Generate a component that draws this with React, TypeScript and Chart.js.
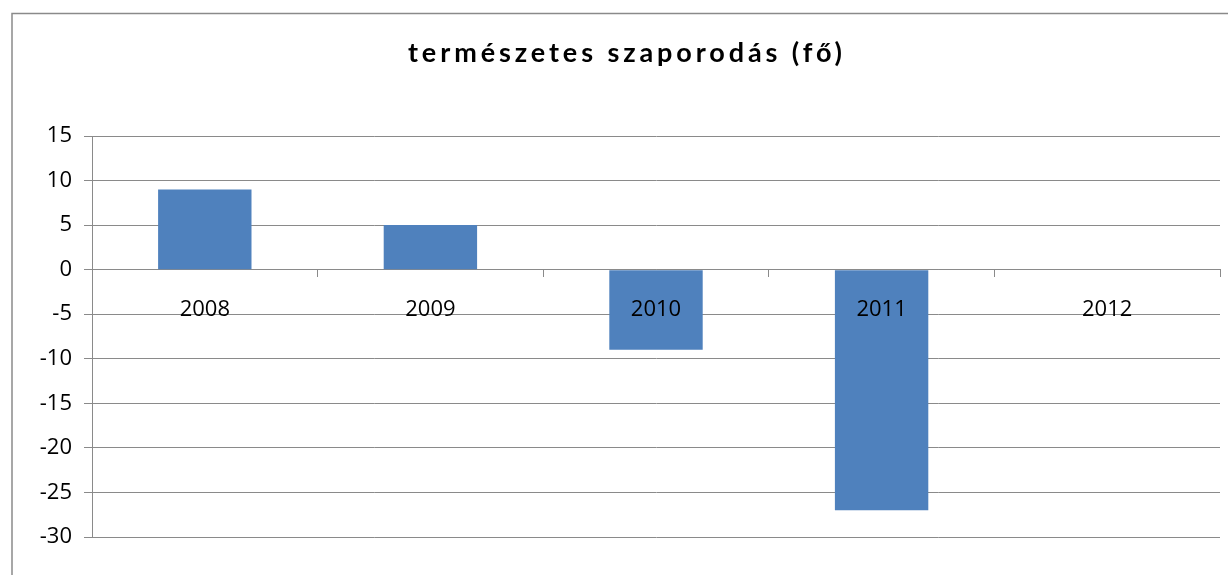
import React, { useEffect, useRef } from "react";
import { Chart, registerables } from "chart.js";

Chart.register(...registerables);

const TITLE = "természetes szaporodás (fő)";
const CATEGORIES = ["2008", "2009", "2010", "2011", "2012"];
const VALUES = [9, 5, -9, -27, 0];
const Y_MIN = -30;
const Y_MAX = 15;
const Y_STEP = 5;

const BAR_COLOR = "#4F81BD";
const GRID_COLOR = "#8a8a8a";
const FONT_FAMILY = "'Open Sans', 'Liberation Sans', sans-serif";
const TITLE_FONT = "bold 27px Lato, 'Open Sans', sans-serif";
const TITLE_WIDTH = 434;

const frameTitlePlugin = {
  id: "frameTitle",
  beforeDraw(chart: any) {
    const ctx = chart.ctx as CanvasRenderingContext2D;
    ctx.save();
    ctx.fillStyle = "#ffffff";
    ctx.fillRect(0, 0, chart.width, chart.height);
    ctx.strokeStyle = GRID_COLOR;
    ctx.lineWidth = 1.5;
    ctx.beginPath();
    ctx.moveTo(12, chart.height + 10);
    ctx.lineTo(12, 13.5);
    ctx.lineTo(chart.width + 10, 13.5);
    ctx.stroke();
    ctx.font = TITLE_FONT;
    (ctx as any).letterSpacing = "0px";
    const plain = ctx.measureText(TITLE).width;
    const spacing = Math.max(0, (TITLE_WIDTH - plain) / (TITLE.length - 1));
    (ctx as any).letterSpacing = `${spacing}px`;
    ctx.textAlign = "left";
    ctx.textBaseline = "alphabetic";
    ctx.fillStyle = "#000000";
    ctx.fillText(TITLE, 625 - TITLE_WIDTH / 2, 62);
    ctx.restore();
  },
};

export default function App() {
  const canvasRef = useRef<HTMLCanvasElement | null>(null);

  useEffect(() => {
    if (!canvasRef.current) return;
    const chart = new Chart(canvasRef.current, {
      type: "bar",
      data: {
        labels: CATEGORIES,
        datasets: [
          {
            data: VALUES,
            backgroundColor: BAR_COLOR,
            borderWidth: 0,
            barPercentage: 0.414,
            categoryPercentage: 1,
          },
        ],
      },
      options: {
        responsive: false,
        animation: false,
        events: [],
        layout: { padding: { left: 30, right: 8, top: 136, bottom: 38 } },
        plugins: {
          legend: { display: false },
          title: { display: false },
          tooltip: { enabled: false },
        },
        scales: {
          x: {
            type: "category",
            position: { y: 0 } as any,
            offset: true,
            grid: {
              offset: true,
              drawOnChartArea: false,
              drawTicks: true,
              tickLength: 7,
              color: GRID_COLOR,
            },
            border: { display: true, color: GRID_COLOR, width: 1 },
            ticks: {
              z: 1,
              padding: 20,
              color: "#000000",
              font: { family: FONT_FAMILY, size: 22 },
              maxRotation: 0,
            },
          },
          y: {
            min: Y_MIN,
            max: Y_MAX,
            afterFit(scale: any) {
              scale.width = 62;
            },
            grid: {
              color: GRID_COLOR,
              tickLength: 8,
              drawTicks: true,
            },
            border: { display: true, color: GRID_COLOR, width: 1 },
            ticks: {
              stepSize: Y_STEP,
              padding: 12,
              color: "#000000",
              font: { family: FONT_FAMILY, size: 22 },
            },
          },
        },
      },
      plugins: [frameTitlePlugin],
    });
    return () => chart.destroy();
  }, []);

  return (
    <div style={{ position: "fixed", left: 0, top: 0, width: 1228, height: 575, background: "#fff" }}>
      <canvas ref={canvasRef} width={1228} height={575} style={{ width: 1228, height: 575, display: "block" }} />
    </div>
  );
}
